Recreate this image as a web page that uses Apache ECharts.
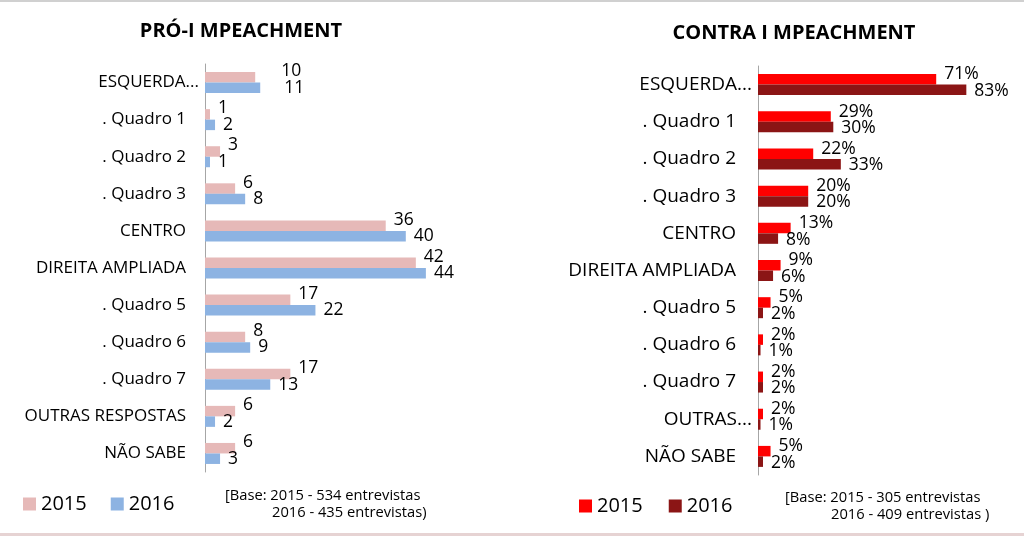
<!DOCTYPE html>
<html>
<head lang="pt">
    <meta charset="UTF-8">
    <title>Impeachment</title>
    <style>
        html, body { margin: 0; padding: 0; background: #fff; }
        #main { width: 1024px; height: 536px; }
    </style>
</head>
<body>
<div id="main"></div>
<script src="https://cdn.jsdelivr.net/npm/echarts@6/dist/echarts.min.js"></script>
<script type="text/javascript">
    // categorias (iguais nos dois graficos, exceto OUTRAS)
    var catsPro = ['ESQUERDA...', '. Quadro 1', '. Quadro 2', '. Quadro 3', 'CENTRO', 'DIREITA AMPLIADA',
        '. Quadro 5', '. Quadro 6', '. Quadro 7', 'OUTRAS RESPOSTAS', 'NÃO SABE'];
    var catsContra = ['ESQUERDA...', '. Quadro 1', '. Quadro 2', '. Quadro 3', 'CENTRO', 'DIREITA AMPLIADA',
        '. Quadro 5', '. Quadro 6', '. Quadro 7', 'OUTRAS...', 'NÃO SABE'];

    // pro-impeachment
    var pro2015 = [10, 1, 3, 6, 36, 42, 17, 8, 17, 6, 6];
    var pro2016 = [11, 2, 1, 8, 40, 44, 22, 9, 13, 2, 3];
    // contra impeachment (%)
    var contra2015 = [71, 29, 22, 20, 13, 9, 5, 2, 2, 2, 5];
    var contra2016 = [83, 30, 33, 20, 8, 6, 2, 1, 2, 1, 2];

    var years = ['2015', '2016'];

    var FONT = '"Open Sans", sans-serif';
    var myChart = echarts.init(document.getElementById('main'));

    function yAxisFor(cats, grid, size, margin, extra) {
        return {
            type: 'category', gridIndex: grid, data: cats, inverse: true,
            axisLine: {lineStyle: {color: '#a6a6a6', width: 1}},
            axisTick: {length: 5, lineStyle: {color: '#a6a6a6'}},
            axisLabel: {
                margin: margin, fontFamily: FONT, fontSize: size, color: '#000',
                formatter: function (v) {
                    return v.indexOf('...') >= 0 ? '{t|' + v + '}' : '{n|' + v + '}';
                },
                rich: {
                    t: {fontFamily: FONT, fontSize: size, color: '#000'},
                    n: {fontFamily: FONT, fontSize: size, color: '#000', padding: [0, extra, 0, 0]}
                }
            }
        };
    }

    function barSeries(name, vals, grid, color, dy, suffix, firstDx) {
        return {
            name: name, type: 'bar', xAxisIndex: grid, yAxisIndex: grid,
            barWidth: 10.5, barGap: '0%',
            itemStyle: {color: color},
            data: vals.map(function (v, i) {
                var item = {value: v};
                if (i === 0 && firstDx) item.label = {offset: [firstDx, dy]};
                return item;
            }),
            label: {
                show: true, position: 'right', distance: 8, offset: [0, dy],
                fontFamily: FONT, fontSize: 17.5, color: '#000',
                formatter: function (p) { return p.value + suffix; }
            }
        };
    }

    option = {
        animation: false,
        backgroundColor: '#fff',
        title: [
            {text: 'PRÓ-I MPEACHMENT', left: 236, top: 16, textAlign: 'center',
                textStyle: {fontFamily: FONT, fontWeight: 'bold', fontSize: 20, color: '#000'}},
            {text: 'CONTRA I MPEACHMENT', left: 789, top: 18, textAlign: 'center',
                textStyle: {fontFamily: FONT, fontWeight: 'bold', fontSize: 20, color: '#000'}}
        ],
        legend: [
            {left: 23, top: 494, padding: 0, itemWidth: 13, itemHeight: 13, itemGap: 24, icon: 'rect',
                textStyle: {fontFamily: FONT, fontSize: 20, color: '#000'},
                data: [{name: years[0], itemStyle: {color: '#e6b9b8'}}, {name: years[1], itemStyle: {color: '#8db3e2'}}]},
            {left: 579, top: 496, padding: 0, itemWidth: 13, itemHeight: 13, itemGap: 26, icon: 'rect',
                textStyle: {fontFamily: FONT, fontSize: 20, color: '#000'},
                data: [{name: years[0], itemStyle: {color: '#ff0000'}}, {name: years[1], itemStyle: {color: '#8b1515'}}]}
        ],
        grid: [
            {left: 205, top: 64, width: 251, height: 408},
            {left: 758, top: 66, width: 251, height: 409}
        ],
        xAxis: [
            {type: 'value', gridIndex: 0, min: 0, max: 50, show: false},
            {type: 'value', gridIndex: 1, min: 0, max: 100, show: false}
        ],
        yAxis: [
            yAxisFor(catsPro, 0, 17, 6, 13),
            yAxisFor(catsContra, 1, 19, 6, 16)
        ],
        series: [
            barSeries(years[0], pro2015, 0, '#e6b9b8', -6, '', 18),
            barSeries(years[1], pro2016, 0, '#8db3e2', 0, '', 16),
            barSeries(years[0], contra2015, 1, '#ff0000', -5, '%', 0),
            barSeries(years[1], contra2016, 1, '#8b1515', 1, '%', 0)
        ],
        graphic: [
            {type: 'rect', shape: {x: 0, y: 0, width: 1024, height: 2}, style: {fill: '#d0d0d0'}},
            {type: 'rect', shape: {x: 0, y: 533, width: 1024, height: 3}, style: {fill: '#e6d3d3'}},
            {type: 'text', left: 225, top: 488, style: {text: '[Base: 2015 - 534 entrevistas', font: '14.7px ' + FONT, fill: '#000'}},
            {type: 'text', left: 272, top: 505, style: {text: '2016 - 435 entrevistas)', font: '14.7px ' + FONT, fill: '#000'}},
            {type: 'text', left: 785, top: 490, style: {text: '[Base: 2015 - 305 entrevistas', font: '14.7px ' + FONT, fill: '#000'}},
            {type: 'text', left: 831, top: 507, style: {text: '2016 - 409 entrevistas )', font: '14.7px ' + FONT, fill: '#000'}}
        ]
    };
    myChart.setOption(option);
</script>
</body>
</html>
